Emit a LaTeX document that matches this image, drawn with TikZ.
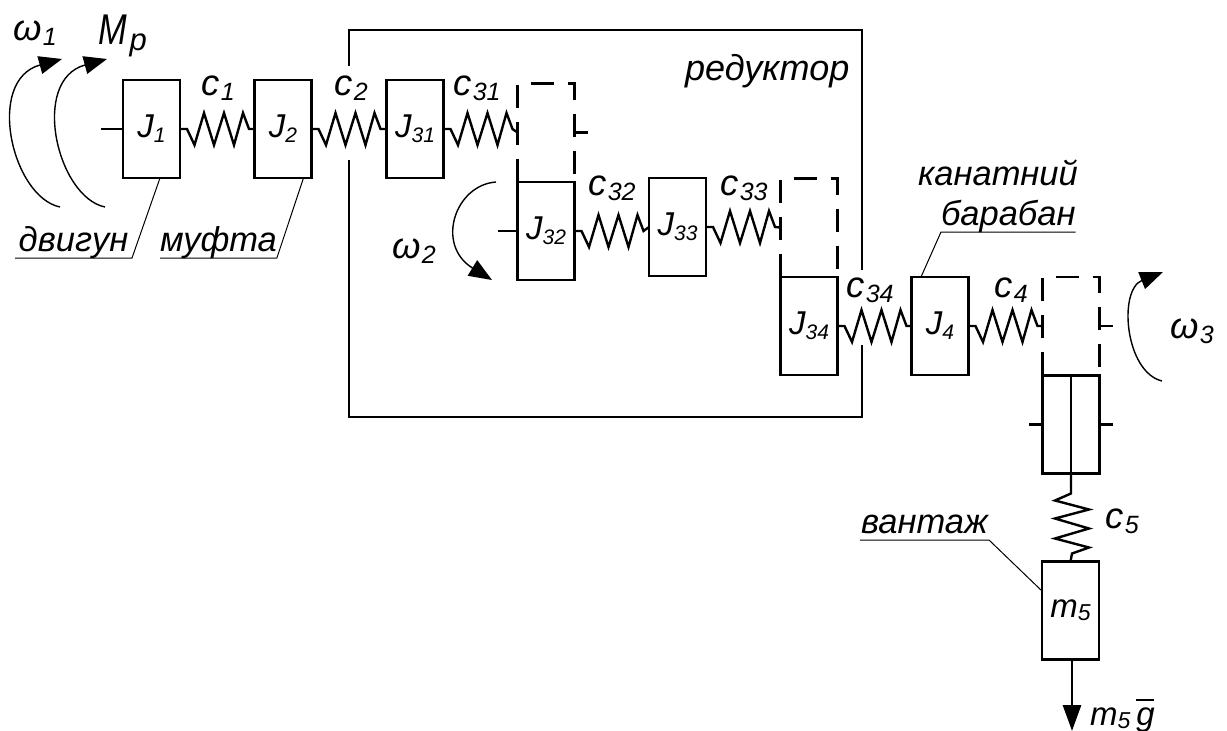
\documentclass[tikz,border=0pt]{standalone}
\usepackage{graphicx}
\usepackage{fontspec}
\setmainfont{Liberation Sans}
\usetikzlibrary{arrows.meta}
\newcommand{\capf}{\fontsize{34.5}{36}\selectfont\itshape}
\newcommand{\sy}[2]{{\fontsize{33}{35}\selectfont\itshape #1}\raisebox{-5pt}{\fontsize{21}{23}\selectfont\itshape #2}}
\newcommand{\sm}[2]{{\fontsize{33}{35}\selectfont\itshape #1}\raisebox{-3pt}{\fontsize{23}{25}\selectfont\itshape #2}}
\newcommand{\sk}[2]{{\fontsize{36.5}{38}\selectfont\itshape #1}\kern1.5pt\raisebox{-5.5pt}{\fontsize{25}{27}\selectfont\itshape #2}}
\newcommand{\springh}[2]{\draw[ln] #1 -- ++(7,0) -- ++(7.5,16) -- ++(9.5,-32) -- ++(10,32) -- ++(10,-32) -- ++(10,32) -- ++(9,-32) -- ++(6,16) -- #2;}
\tikzset{
 ln/.style={line width=2.4pt,line join=miter},
 thinln/.style={line width=1pt},
 arcln/.style={line width=1.4pt},
 massbox/.style={draw,line width=2.4pt,rectangle,minimum width=57pt,minimum height=98pt,inner sep=0pt,outer sep=0pt},
 ghost/.style={rectangle,minimum width=57pt,minimum height=98pt,inner sep=0pt,outer sep=0pt},
 dsh/.style={line width=2.4pt,dash pattern=on 23pt off 14pt},
 labl/.style={anchor=base west,inner sep=0pt,outer sep=0pt},
 captxt/.style={anchor=south west,inner sep=0pt,outer sep=0pt,align=center,text depth=7pt,font=\capf},
 tipa/.style={-{Triangle[length=23pt,width=18pt]}}
}
\begin{document}
\begin{tikzpicture}[x=1pt,y=-1pt]
\useasboundingbox (0,0) rectangle (1227,731);
% frame
\draw[line width=1.8pt] (349,66) -- (349,30) -- (862,30) -- (862,270);
\draw[line width=1.8pt] (862,345) -- (862,417) -- (349,417) -- (349,160);
% boxes
\node[massbox] (J1) at (151.5,129) {\sy{J}{1}};
\node[massbox] (J2) at (283,129) {\sy{J}{2}};
\node[massbox] (J31) at (415,129) {\sy{J}{31}};
\node[ghost] (D1) at (546,132.5) {};
\node[massbox] (J32) at (546,231) {\sy{J}{32}};
\node[massbox] (J33) at (677.5,227) {\sy{J}{33}};
\node[ghost] (D2) at (809,227.5) {};
\node[massbox] (J34) at (809,326) {\sy{J}{34}};
\node[massbox] (J4) at (940,326) {\sy{J}{4}};
\node[ghost] (D3) at (1071,326) {};
\node[massbox] (DR) at (1071,424.5) {};
\node[massbox] (M5) at (1070.5,610.5) {\raisebox{-3pt}{\sm{m}{5}}};
% dashed carriers
\draw[dsh] (D1.south west) -- (D1.north west) -- (D1.north east) -- (D1.south east);
\draw[dsh] (D2.south west) -- (D2.north west) -- (D2.north east) -- (D2.south east);
\draw[dsh] (D3.south west) -- (D3.north west) -- (D3.north east) -- (D3.south east);
\draw[ln] (D1.east) -- ++(13,0);
\draw[ln] (D3.east) -- ++(13,0);
% stubs
\draw[ln] (J1.west) -- ++(-22,0);
\draw[ln] (J32.west) -- ++(-20,0);
\draw[ln] (DR.west) -- ++(-14,0);
\draw[ln] (DR.east) -- ++(13,0);
\draw[ln] (DR.north) -- (DR.south);
% springs
\springh{(J1.east)}{(J2.west)}
\springh{(J2.east)}{(J31.west)}
\springh{(J31.east)}{(D1.west)}
\springh{(J32.east)}{(J33.west)}
\springh{(J33.east)}{(D2.west)}
\springh{(J34.east)}{(J4.west)}
\springh{(J4.east)}{(D3.west)}
\draw[ln] (DR.south) -- ++(0,20) -- ++(-16,7) -- ++(34,9) -- ++(-34,9) -- ++(34,10) -- ++(-34,10) -- ++(34,9) -- ++(-17,6) -- (M5.north);
% load arrow
\coordinate (G) at (1072,731);
\draw[line width=2.8pt,-{Triangle[length=26pt,width=18pt]}] (M5.south -| G) -- (G);
% spring labels
\node[labl] (c1) at (201,95) {\sk{c}{1}};
\node[labl] (c2) at (334,95) {\sk{c}{2}};
\node[labl] (c31) at (453,95) {\sk{c}{31}};
\node[labl] (c32) at (588,195) {\sk{c}{32}};
\node[labl] (c33) at (720,195) {\sk{c}{33}};
\node[labl] (c34) at (846,297) {\sk{c}{34}};
\node[labl] (c4) at (994,297) {\sk{c}{4}};
\node[labl] (c5) at (1105,528) {\sk{c}{5}};
% moments
\node[labl] (w1) at (13,40) {\sk{ω}{1}};
\node[labl] (Mp) at (98,44) {\scalebox{0.8}[1]{\fontsize{43}{45}\selectfont\itshape M}\kern3pt\raisebox{-6pt}{\fontsize{31}{33}\selectfont\itshape p}};
\node[labl] (w2) at (392,258) {\sk{ω}{2}};
\node[labl] (w3) at (1170,338) {\sk{ω}{3}};
\node[labl] (mg) at (1090,725) {\sm{m}{5}\hspace{6pt}\rlap{\raisebox{24pt}{\rule{18pt}{1.6pt}}}{\fontsize{33}{35}\selectfont\itshape g}};
% curved arrows
\coordinate (a1s) at (60,207); \coordinate (a1e) at (62,59);
\coordinate (a2s) at (105,207); \coordinate (a2e) at (107,59);
\coordinate (a3s) at (496,182); \coordinate (a3e) at (492,280);
\coordinate (a4s) at (1162,381); \coordinate (a4e) at (1163,272);
\draw[arcln,tipa] (a1s) .. controls (12,197) and (-15,80) .. (a1e);
\draw[arcln,tipa] (a2s) .. controls (57,197) and (30,80) .. (a2e);
\draw[arcln,tipa] (a3s) .. controls (455,185) and (435,245) .. (a3e);
\draw[arcln,tipa] (a4s) .. controls (1125,372) and (1118,290) .. (a4e);
% captions
\node[captxt,minimum width=117pt] (dv) at (15,258) {двигун};
\node[captxt,minimum width=116pt] (mu) at (160,258) {муфта};
\node[captxt,minimum width=129pt] (va) at (860,540) {вантаж};
\node[anchor=base west,inner sep=0pt] (re) at (685,80) {\fontsize{36}{38}\selectfont\itshape редуктор};
\node[anchor=base,inner sep=0pt,align=center] (ka) at (998,185) {\capf канатний};
\node[captxt,minimum width=130pt] (ba) at (941,232) {барабан};
% leaders
\coordinate (l1) at (160,178); \coordinate (l2) at (303.5,178); \coordinate (l3) at (921,277); \coordinate (l4) at (1042,591);
\draw[thinln] (dv.south west) -- (dv.south east) -- (l1);
\draw[thinln] (mu.south west) -- (mu.south east) -- (l2);
\draw[thinln] (ba.south east) -- (ba.south west) -- (l3);
\draw[thinln] (va.south west) -- (va.south east) -- (l4);
\end{tikzpicture}
\end{document}
